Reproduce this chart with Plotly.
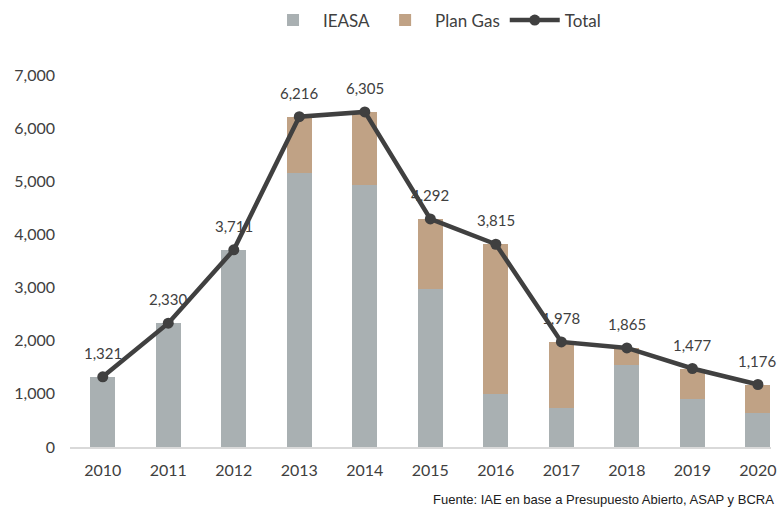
import plotly.graph_objects as go

years = ["2010", "2011", "2012", "2013", "2014", "2015", "2016", "2017", "2018", "2019", "2020"]
ieasa = [1321, 2330, 3711, 5156, 4930, 2973, 1000, 734, 1543, 903, 645]
total = [1321, 2330, 3711, 6216, 6305, 4292, 3815, 1978, 1865, 1477, 1176]
plan_gas = [t - i for t, i in zip(total, ieasa)]
labels = [f"{v:,}" for v in total]

font_family = "Lato, 'Open Sans', sans-serif"
text_color = "#404040"

fig = go.Figure()
fig.add_trace(go.Bar(x=years, y=ieasa, name="IEASA", marker_color="#A9B0B2",
                     marker_line_width=0))
fig.add_trace(go.Bar(x=years, y=plan_gas, name="Plan Gas", marker_color="#C0A285",
                     marker_line_width=0))
fig.add_trace(go.Scatter(x=years, y=total, name="Total", mode="lines+markers",
                         line=dict(color="#404040", width=4.5),
                         marker=dict(color="#404040", size=11)))

# data labels: category index on the category axis, value on the y axis
label_annotations = [
    dict(x=i, y=y, text=t, xref="x", yref="y", showarrow=False, yshift=24,
         font=dict(size=15, color=text_color, family=font_family))
    for i, (y, t) in enumerate(zip(total, labels))
]

fig.update_layout(
    width=779, height=512,
    barmode="stack", bargap=0.62,
    plot_bgcolor="white", paper_bgcolor="white",
    margin=dict(l=70, r=8, t=75, b=65),
    font=dict(family=font_family, size=16, color=text_color),
    legend=dict(orientation="h", x=0.52, xanchor="center", yref="container",
                y=0.96, yanchor="middle",
                font=dict(size=17, color=text_color), traceorder="normal",
                itemwidth=50),
    xaxis=dict(type="category", range=[-0.5, 10.2], showgrid=False, showline=True,
               linecolor="#D9D9D9", linewidth=1.5, ticks="", automargin=False,
               ticklabelstandoff=8, tickfont=dict(size=16, color=text_color)),
    yaxis=dict(range=[0, 7000], dtick=1000, tickformat=",", showgrid=False,
               zeroline=False, showline=False, ticks="", automargin=False,
               ticklabelstandoff=14,
               tickfont=dict(size=16, color=text_color)),
    annotations=label_annotations + [
        dict(text="Fuente: IAE en base a Presupuesto Abierto, ASAP y BCRA",
             xref="paper", yref="paper", x=1.0, y=-0.142, xanchor="right", xshift=5,
             yanchor="middle", showarrow=False,
             font=dict(family="Liberation Sans, Arial, sans-serif", size=13,
                       color="#202020"))],
)

fig.write_html("out.html", config={"displayModeBar": False},
               post_script="document.body.style.margin='0';document.body.style.overflow='hidden';")
